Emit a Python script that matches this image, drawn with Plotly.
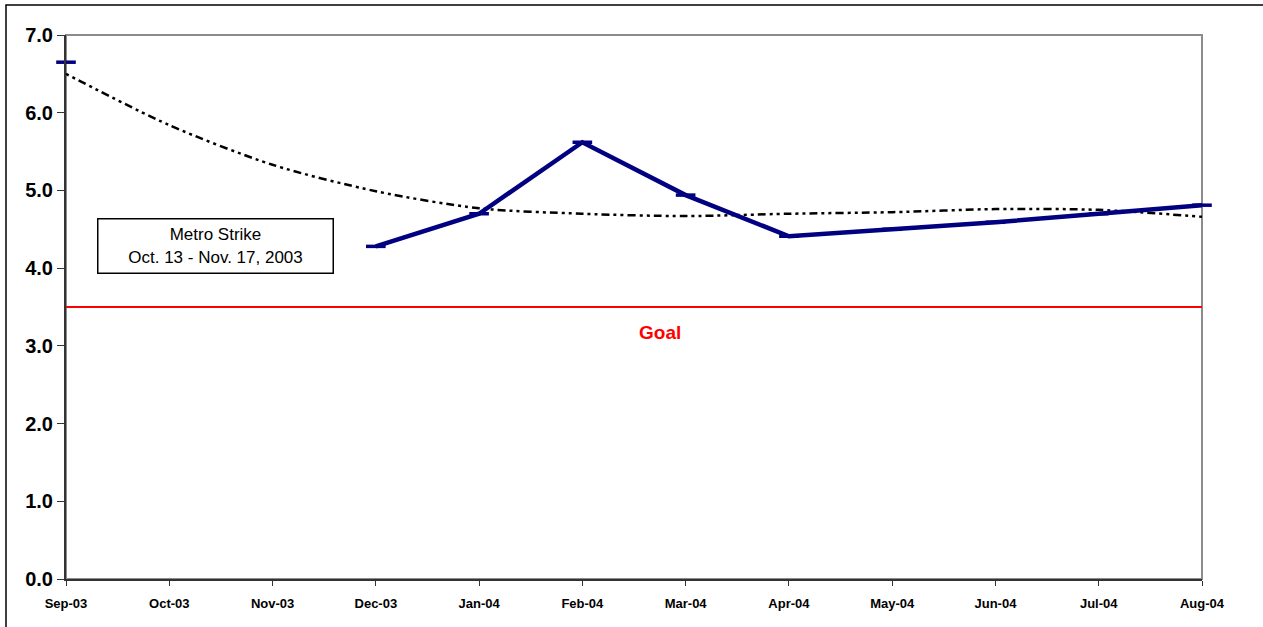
import plotly.graph_objects as go

months = ["Sep-03", "Oct-03", "Nov-03", "Dec-03", "Jan-04", "Feb-04",
          "Mar-04", "Apr-04", "May-04", "Jun-04", "Jul-04", "Aug-04"]
actual = [6.65, None, None, 4.28, 4.70, 5.62, 4.94, 4.41, 4.50, 4.59, 4.70, 4.81]
trend = [6.50, 5.84, 5.33, 4.99, 4.77, 4.70, 4.67, 4.70, 4.72, 4.76, 4.75, 4.66]
goal_value = 3.5
y_ticks = [0, 1, 2, 3, 4, 5, 6, 7]
y_tick_labels = ["0.0", "1.0", "2.0", "3.0", "4.0", "5.0", "6.0", "7.0"]

FONT = "Arial, 'Liberation Sans', sans-serif"
xpos = list(range(len(months)))

fig = go.Figure()

fig.add_trace(go.Scatter(
    x=xpos, y=trend, mode="lines",
    line=dict(color="black", width=2.5, dash="3px,4px,3px,4px,8px,4px", shape="spline", smoothing=0.8),
    hoverinfo="skip", showlegend=False, cliponaxis=False,
))

fig.add_trace(go.Scatter(
    x=[xpos[0], xpos[-1]], y=[goal_value, goal_value], mode="lines",
    line=dict(color="#ff0000", width=2), showlegend=False, hoverinfo="skip",
))

fig.add_trace(go.Scatter(
    x=xpos, y=actual, mode="lines+markers",
    line=dict(color="#000080", width=4.5),
    marker=dict(symbol="line-ew", size=14, line=dict(color="#000080", width=3.5)),
    connectgaps=False, showlegend=False, cliponaxis=False,
))

W, H = 1263, 627
L, R, T, B = 66, 61, 35, 48
pw, ph = W - L - R, H - T - B

def px(x):
    return (x - L) / pw

def py(y):
    return (H - B - y) / ph

fig.update_layout(
    width=W, height=H,
    margin=dict(l=L, r=R, t=T, b=B),
    plot_bgcolor="white", paper_bgcolor="white",
    font=dict(family=FONT, color="black"),
    xaxis=dict(
        range=[0, 11], tickmode="array", tickvals=xpos, ticktext=months,
        showgrid=False, zeroline=False, showline=True, linecolor="#333333", linewidth=2,
        ticks="outside", ticklen=5, tickcolor="#333333", tickwidth=1,
        ticklabelstandoff=6,
        tickfont=dict(family=FONT, size=13, color="black", weight="bold"),
    ),
    yaxis=dict(
        range=[0, 7], tickmode="array", tickvals=y_ticks, ticktext=y_tick_labels,
        showgrid=False, zeroline=False, showline=True, linecolor="#333333", linewidth=2,
        ticks="outside", ticklen=7, tickcolor="#333333", tickwidth=1,
        tickfont=dict(family=FONT, size=20, color="black", weight="bold"),
    ),
    shapes=[
        dict(type="rect", xref="paper", yref="paper", x0=0, x1=1, y0=0, y1=1,
             line=dict(color="#8c8c8c", width=2), layer="below"),
        dict(type="rect", xref="paper", yref="paper",
             x0=px(6), x1=px(1270), y0=py(5), y1=py(640),
             line=dict(color="black", width=1.5)),
    ],
    annotations=[
        dict(xref="paper", yref="paper", x=px(215.5), y=py(245.5),
             xanchor="center", yanchor="middle",
             text="Metro Strike<br>Oct. 13 - Nov. 17, 2003", showarrow=False,
             font=dict(family=FONT, size=17, color="black"), align="center",
             bordercolor="black", borderwidth=1.5, borderpad=3, bgcolor="white",
             width=228, height=47),
        dict(xref="paper", yref="paper", x=px(660), y=py(332),
             xanchor="center", yanchor="middle",
             text="<b>Goal</b>", showarrow=False,
             font=dict(family=FONT, size=19, color="#ff0000")),
    ],
)

fig.write_html("out.html", config={"displayModeBar": False},
               post_script="document.body.style.margin='0';document.body.style.overflow='hidden';")
